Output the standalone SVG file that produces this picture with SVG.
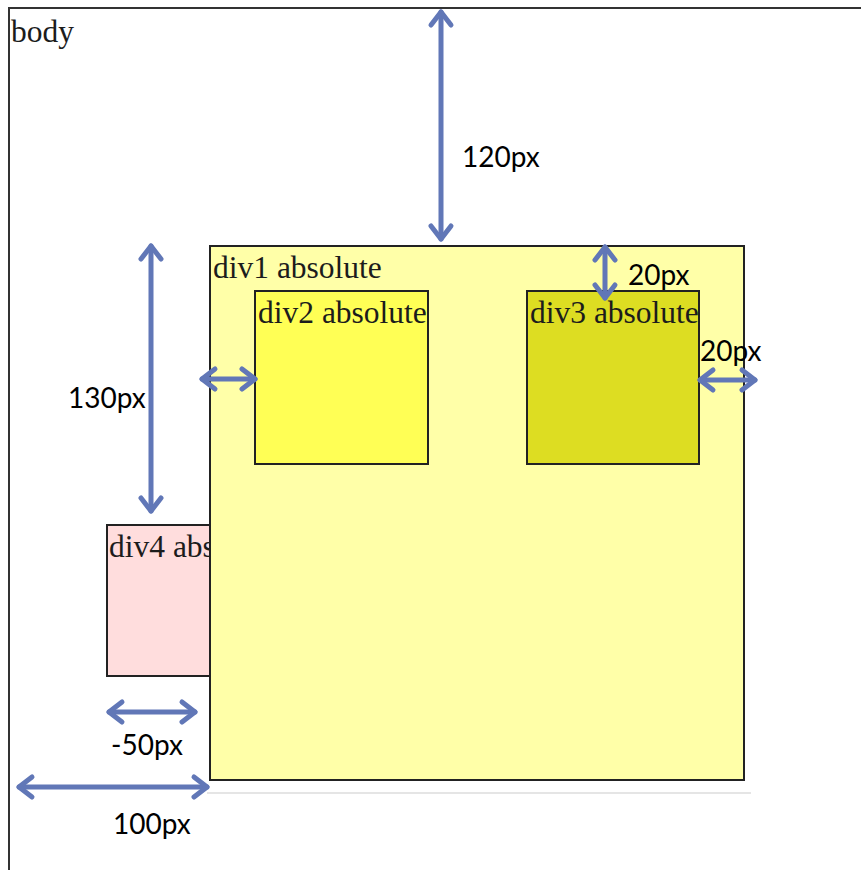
<svg xmlns="http://www.w3.org/2000/svg" width="861" height="870" viewBox="0 0 861 870">
<style>
.box{stroke:#222;stroke-width:2}
.lbl{font-family:"Liberation Serif","Times New Roman",serif;font-size:31.5px;fill:#1c1c1c}
.dim{font-family:Lato,"Open Sans",sans-serif;font-size:28px;fill:#000}
.arr{stroke:#6177b7;stroke-width:5;fill:none;stroke-linecap:round;marker-start:url(#ch);marker-end:url(#ch)}
</style>
<defs>
<marker id="ch" markerUnits="userSpaceOnUse" viewBox="-20 -15 25 30" refX="0" refY="0" markerWidth="25" markerHeight="30" orient="auto-start-reverse" overflow="visible">
<path d="M-13,-10 L0,0 L-13,10" fill="none" stroke="#6177b7" stroke-width="5" stroke-linecap="round" stroke-linejoin="round"/>
</marker>
</defs>
<rect width="861" height="870" fill="#fff"/>
<g id="body">
<path d="M9,870 V8 H861" fill="none" stroke="#333" stroke-width="2"/>
<text class="lbl" x="11" y="42">body</text>
</g>
<line x1="207" y1="793" x2="751" y2="793" stroke="#ddd" stroke-width="1.5"/>
<g id="div4">
<rect class="box" x="107" y="525" width="103" height="151" fill="#ffdddd"/>
<text class="lbl" x="109" y="557">div4 absolute</text>
</g>
<g id="div1">
<rect class="box" x="210" y="246" width="534" height="534" fill="#ffffa8"/>
<text class="lbl" x="213" y="278">div1 absolute</text>
</g>
<g id="div2">
<rect class="box" x="255" y="291" width="173" height="173" fill="#ffff55"/>
<text class="lbl" x="258" y="323">div2 absolute</text>
</g>
<g id="div3">
<rect class="box" x="527" y="291" width="172" height="173" fill="#dddd22"/>
<text class="lbl" x="530" y="323">div3 absolute</text>
</g>
<g id="connectors">
<path class="arr" d="M441,12 V239"/>
<path class="arr" d="M151,246 V511"/>
<path class="arr" d="M202,379 H255"/>
<path class="arr" d="M605,247 V298"/>
<path class="arr" d="M700,380 H755"/>
<path class="arr" d="M109,712 H195"/>
<path class="arr" d="M19,787 H207"/>
</g>
<g id="labels">
<text class="dim" x="462" y="167">120px</text>
<text class="dim" x="68" y="408">130px</text>
<text class="dim" x="628" y="285">20px</text>
<text class="dim" x="700" y="361">20px</text>
<text class="dim" x="111" y="755">-50px</text>
<text class="dim" x="113" y="834">100px</text>
</g>
</svg>
